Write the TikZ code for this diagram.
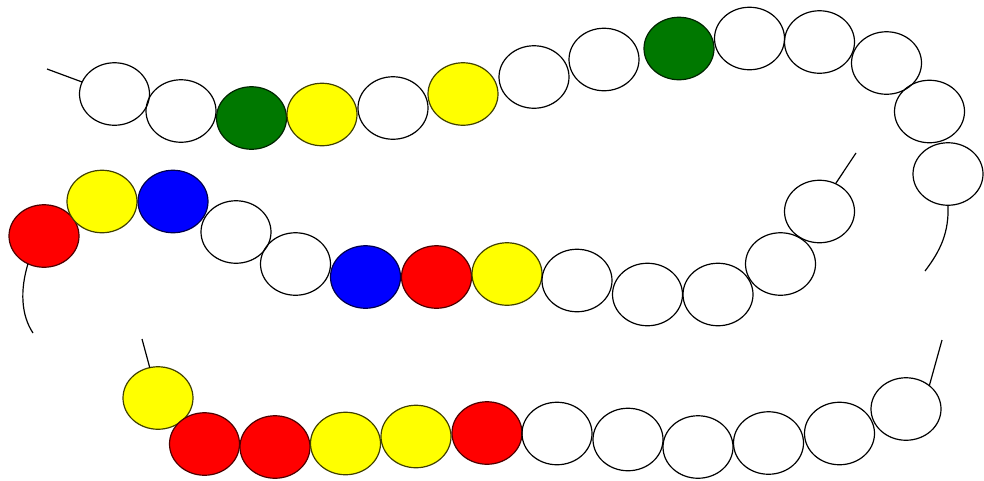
\documentclass[tikz,border=0pt]{standalone}
\usetikzlibrary{shapes.geometric}
\definecolor{bgreen}{RGB}{0,120,0}
\definecolor{byellow}{RGB}{255,255,0}
\definecolor{bred}{RGB}{255,0,0}
\definecolor{bblue}{RGB}{0,0,255}
\tikzset{
  bead/.style={ellipse, draw=black, line width=1.2pt, minimum width=70pt, minimum height=62.5pt, inner sep=0pt, outer sep=0pt},
  wb/.style={bead},
  gb/.style={bead, fill=bgreen, draw=black!70!bgreen},
  yb/.style={bead, fill=byellow, draw=black!75!byellow},
  rb/.style={bead, fill=bred, draw=black!70!bred},
  bb/.style={bead, fill=bblue, draw=black!70!bblue},
  thread/.style={draw=black, line width=1.2pt}
}
\begin{document}
\begin{tikzpicture}[x=1pt,y=-1pt]
\useasboundingbox (0,0) rectangle (984,480);
% row 1
\node[wb] (a1) at (114.5,94) {};
\node[wb] (a2) at (181,111) {};
\node[gb] (a3) at (251.5,118) {};
\node[yb] (a4) at (322,114.5) {};
\node[wb] (a5) at (393,108) {};
\node[yb] (a6) at (463,94) {};
\node[wb] (a7) at (534,77) {};
\node[wb] (a8) at (604,59.5) {};
\node[gb] (a9) at (679,48.5) {};
\node[wb] (a10) at (749.5,38.5) {};
\node[wb] (a11) at (819.5,42) {};
\node[wb] (a12) at (886.5,63) {};
\node[wb] (a13) at (929.5,111.5) {};
\node[wb] (a14) at (948,174) {};
\coordinate (sa) at (47,69);
\coordinate (ea) at (925,271);
\draw[thread] (sa) -- (a1);
\draw[thread] (a14.south) .. controls (949,232) and (941,250) .. (ea);
% row 2
\node[rb] (b1) at (44,236) {};
\node[yb] (b2) at (102,201.5) {};
\node[bb] (b3) at (173,201.5) {};
\node[wb] (b4) at (236,232) {};
\node[wb] (b5) at (295.5,264) {};
\node[bb] (b6) at (365.5,277) {};
\node[rb] (b7) at (436.5,277) {};
\node[yb] (b8) at (507,274) {};
\node[wb] (b9) at (577,280.5) {};
\node[wb] (b10) at (647.5,294.5) {};
\node[wb] (b11) at (718,294.5) {};
\node[wb] (b12) at (780.5,264) {};
\node[wb] (b13) at (819.5,211.5) {};
\coordinate (sb) at (856,153);
\coordinate (eb) at (33,333);
\draw[thread] (b13.60) -- (sb);
\draw[thread] (b1.240) .. controls (20,290) and (21,315) .. (eb);
% row 3
\node[yb] (c1) at (158,398) {};
\node[rb] (c2) at (204.5,444) {};
\node[rb] (c3) at (275,447) {};
\node[yb] (c4) at (345.5,443.5) {};
\node[yb] (c5) at (416,436.5) {};
\node[rb] (c6) at (487,433) {};
\node[wb] (c7) at (557,433.5) {};
\node[wb] (c8) at (628,439.5) {};
\node[wb] (c9) at (698,447) {};
\node[wb] (c10) at (768.5,443) {};
\node[wb] (c11) at (839.5,433.5) {};
\node[wb] (c12) at (906,409) {};
\coordinate (sc) at (142,339);
\coordinate (ec) at (942,340);
\draw[thread] (sc) -- (c1);
\draw[thread] (c12.45) -- (ec);
\end{tikzpicture}
\end{document}
